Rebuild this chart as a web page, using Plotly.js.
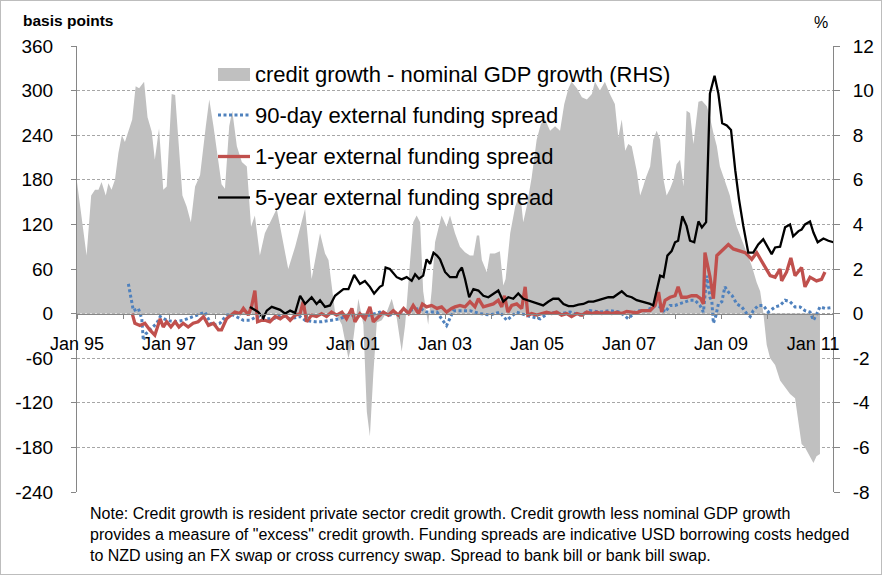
<!DOCTYPE html>
<html><head><meta charset="utf-8">
<script src="https://cdn.plot.ly/plotly-3.0.1.min.js"></script>
<style>
body{margin:0;background:#fff}
#wrap{position:relative;width:882px;height:575px}
#chart{width:882px;height:575px}
#frame{position:absolute;left:0;top:0;width:882px;height:575px;box-sizing:border-box;border:1px solid #bdbdbd;pointer-events:none}
</style>
</head><body><div id="wrap"><div id="chart"></div><div id="frame"></div></div>
<script>
// x positions are months since Jan 1995
const tickMonths = [0,24,48,72,96,120,144,168,192];
const tickLabels = ['Jan 95','Jan 97','Jan 99','Jan 01','Jan 03','Jan 05','Jan 07','Jan 09','Jan 11'];
const leftTicks = [-240,-180,-120,-60,0,60,120,180,240,300,360];
const leftTickText = ['-240','-180','-120','-60','0','60','120','180','240','300','360'];
const rightTicks = [-8,-6,-4,-2,0,2,4,6,8,10,12];
const rightTickText = ['-8','-6','-4','-2','0','2','4','6','8','10','12'];

// credit growth - nominal GDP growth (%, RHS)
const gapMonth = [0,2.5,3.7,4.7,5.6,6.4,7.5,8.2,9.0,9.9,10.8,11.7,12.5,13.4,14.4,15.3,16.2,17.5,18.4,19.5,
 20.3,21.4,22.5,23.4,24.7,25.6,26.6,27.5,28.6,29.7,30.8,32.1,33.6,34.5,35.6,36.7,37.7,38.6,39.7,40.5,
 41.7,43.0,44.3,45.4,46.4,47.7,49.0,52.1,55.1,56.9,59.5,61.2,63.4,64.7,65.6,67.3,69.1,70.8,72.1,73.4,
 74.7,75.6,76.4,77.3,78.2,79.5,80.8,82.1,83.4,84.7,85.6,86.9,87.7,88.6,89.5,90.3,91.6,92.5,93.4,95.1,
 96.4,97.3,98.6,99.9,101.2,102.5,103.4,104.3,104.9,105.6,106.9,107.7,109.0,110.3,111.2,111.8,113.0,114.3,115.6,116.4,
 117.3,118.6,119.9,121.0,122.1,123.4,124.7,126.0,127.1,128.2,129.0,130.4,131.7,133.0,134.3,135.1,136.4,137.7,139.0,140.3,
 141.2,142.1,143.0,143.8,144.7,146.0,146.9,147.7,148.4,149.5,150.3,151.2,152.1,153.0,153.8,154.7,155.6,156.4,157.3,158.2,
 159.0,159.9,160.8,162.1,163.0,164.3,165.1,166.0,166.9,167.7,168.6,169.5,170.3,171.2,172.1,173.4,174.7,176.0,177.3,178.2,
 179.0,179.9,180.8,182.1,183.4,184.7,186.0,187.3,188.2,189.0,189.9,191.2,192.1,192.9,193.8];
const gapValue = [5.9,2.6,5.3,5.55,5.55,5.9,5.3,5.85,5.55,6.0,7.2,8.0,7.7,8.2,8.7,10.2,10.1,10.4,8.8,8.15,
 6.9,8.3,5.55,5.7,9.85,9.8,7.5,5.3,4.8,4.1,5.7,6.2,8.4,9.6,8.4,6.9,5.8,5.6,8.4,9.1,
 7.5,6.8,6.6,3.9,4.4,2.6,3.6,4.7,2.0,3.0,4.7,1.55,3.6,2.7,2.4,0.07,-0.5,-2.0,-1.1,0.67,
 -0.5,-4.4,-5.5,-2.7,-0.4,-0.3,0.07,0.67,-0.2,-1.7,-0.5,2.4,4.1,4.4,4.1,1.0,-0.5,1.0,3.2,4.4,
 3.9,4.4,3.6,3.0,2.75,2.6,2.6,3.5,3.5,2.4,1.85,2.7,2.7,2.8,1.26,1.55,3.6,4.8,5.4,4.1,
 4.8,6.1,7.8,8.5,8.7,8.2,8.4,8.2,9.4,10.1,10.4,10.1,9.7,9.6,9.85,10.4,10.0,10.4,9.85,9.4,
 7.9,8.7,7.3,7.6,7.5,6.4,5.3,5.7,6.1,6.6,7.8,8.2,7.8,6.0,5.3,5.6,6.0,6.7,6.9,5.7,
 9.1,9.0,7.6,9.5,9.55,9.3,8.8,8.1,7.5,6.6,6.1,5.7,5.3,4.5,3.9,3.3,2.7,2.15,1.4,1.0,
 0.07,-1.4,-2.0,-2.3,-3.0,-3.3,-3.6,-3.8,-4.8,-5.85,-6.0,-6.4,-6.7,-6.4,-6.3];

// 90-day external funding spread (bp)
const d90Month = [13.4,13.8,14.3,14.7,16.0,16.9,17.3,18.0,18.6,19.5,20.8,21.7,23.4,25.6,27.7,30.3,33.4,35.1,37.3,39.0,
 40.8,43.4,45.1,46.9,48.6,51.2,53.4,55.6,58.2,59.5,62.1,63.8,66.0,68.6,70.3,72.1,74.3,76.4,79.0,81.6,
 84.3,86.9,89.5,91.2,93.9,95.1,96.4,98.2,99.1,102.5,105.1,107.7,110.3,112.1,114.7,118.2,120.8,123.4,126.0,128.6,
 131.2,133.8,136.4,139.0,141.7,143.8,146.0,148.6,150.8,152.1,153.4,154.7,156.0,157.3,158.6,159.9,161.2,162.5,163.4,164.3,
 165.1,165.6,166.0,166.6,167.3,168.2,169.0,169.9,170.9,172.1,173.4,174.7,175.6,176.4,177.7,179.0,180.3,182.1,183.4,184.7,
 186.0,187.3,188.6,189.9,191.2,192.1,193.0,193.8,195.1,196.9];
const d90Value = [40,29,18,4,7,-7,-36,-27,-24,-20,-13,-4,-9,-11,-9,-4,2,-16,-13,-2,
 -2,-9,-9,-4,-7,-7,-2,-7,-4,-9,-11,-11,-9,-7,-3,-2,-4,-2,2,-2,
 2,4,7,2,2,-7,-16,4,4,4,0,-2,2,-9,2,-4,-7,2,0,2,
 -2,4,2,4,2,-7,4,4,11,9,2,11,11,13,16,18,18,11,2,51,
 22,16,-13,-4,13,16,36,29,24,13,9,0,-4,4,11,11,2,9,11,18,
 16,9,9,4,2,-9,0,9,7,8];

// 1-year external funding spread (bp)
const y1Month = [14.4,15.1,16.4,17.7,19.0,20.3,21.7,22.5,23.4,24.5,25.6,26.6,27.7,29.0,30.3,31.6,33.0,34.3,35.6,36.9,
 37.7,39.0,40.2,41.2,42.5,43.4,44.7,45.6,46.4,47.1,48.2,49.0,50.3,51.7,53.0,54.3,55.6,56.9,58.2,59.0,
 59.9,61.2,62.5,63.8,65.1,66.4,67.7,69.1,70.3,71.7,72.5,73.8,75.1,76.4,77.3,78.6,79.9,81.2,82.5,83.8,
 85.2,86.5,87.7,89.1,90.1,91.2,92.5,93.9,95.1,96.4,97.7,98.6,99.9,101.2,102.5,103.8,104.7,106.0,107.3,108.6,
 109.9,110.8,111.5,112.4,113.4,114.7,116.0,116.9,117.6,118.6,119.9,121.2,122.5,123.8,125.1,126.4,127.7,129.0,130.4,131.7,
 133.0,134.3,135.6,136.9,138.2,139.5,140.8,142.1,143.4,144.7,146.0,147.3,148.4,149.5,150.8,151.7,152.5,153.4,154.7,156.0,
 156.8,157.7,159.0,160.3,161.6,162.7,163.4,163.8,165.1,166.0,166.9,168.4,169.9,171.2,174.3,175.1,176.0,177.3,179.0,180.8,
 182.1,183.4,183.8,185.1,186.2,187.3,189.0,189.9,191.2,192.9,194.2,195.1];
const y1Value = [0,-13,-16,-13,-22,-29,-7,-18,-11,-18,-11,-18,-13,-18,-13,-11,-4,-16,-13,-22,
 -22,-7,-2,2,0,7,-2,11,31,-11,-9,-9,-11,-4,-7,-2,-9,-2,0,16,
 -11,-2,-4,0,-4,2,-2,2,-7,7,-11,0,-7,9,-11,-4,2,-2,4,-2,
 7,0,11,0,13,9,11,7,9,2,7,9,11,9,16,9,20,9,11,13,
 18,9,24,2,11,13,7,36,-2,0,-2,0,2,0,2,-2,0,-4,0,-2,
 2,0,2,0,2,0,2,0,3,2,1,4,4,4,11,29,2,18,22,24,
 36,22,22,24,24,20,13,82,50,20,78,85,93,87,82,78,73,82,67,51,
 49,60,44,56,75,51,62,36,49,44,46,56];

// 5-year external funding spread (bp)
const y5Month = [45.1,47.3,48.6,49.5,50.8,53.0,54.3,55.6,56.9,58.2,59.5,61.2,62.5,63.4,64.7,66.0,67.3,69.5,70.8,72.3,
 73.8,75.1,76.4,77.5,79.0,79.7,80.5,81.6,83.4,84.7,86.0,87.3,88.2,89.2,90.3,91.2,92.1,93.0,93.9,94.7,
 96.0,97.3,99.0,99.5,100.4,101.2,102.3,103.4,104.7,106.0,107.3,108.6,109.9,111.2,112.5,113.8,115.1,116.4,117.7,119.0,
 120.3,121.6,122.9,124.2,125.6,126.9,128.2,129.5,130.8,132.1,133.4,134.7,136.0,137.3,138.6,139.9,141.2,142.1,143.4,144.7,
 146.0,147.3,148.4,149.5,150.3,151.2,152.1,153.0,154.0,155.1,156.0,156.8,157.9,159.0,159.9,161.0,162.1,163.0,164.1,165.1,
 166.3,167.3,168.3,169.5,170.6,171.7,172.7,173.8,175.1,176.4,177.7,179.0,179.9,181.2,182.1,183.4,184.7,186.0,186.8,188.2,
 189.0,189.9,191.2,192.1,193.2,194.7,196.0,197.3];
const y5Value = [9,2,-6,4,9,5,0,4,1,24,13,22,13,18,9,11,24,33,33,52,
 40,44,36,27,36,38,62,60,49,46,49,44,53,47,51,73,67,82,78,73,
 56,49,49,56,62,47,22,33,31,24,22,27,31,16,22,20,27,20,18,16,
 13,11,16,20,20,13,10,10,12,13,16,16,18,20,22,22,27,30,24,22,
 18,16,15,13,11,33,51,49,78,84,96,98,131,118,98,96,124,116,123,296,
 320,296,256,253,247,193,153,118,82,82,93,100,91,80,89,90,116,120,104,111,
 113,120,124,109,96,101,98,96];

const FONT = 'Liberation Sans, Arial, sans-serif';
const AX = '#868686';
const BLUE = '#4F81BD', RED = '#C0504D', GREY = '#C0C0C0';
const DOTS = '3px,2.5px';

// primary y = RHS (%) so the area sits underneath; y2 = LHS basis points overlay
const traces = [
  {x: gapMonth, y: gapValue, yaxis: 'y', type: 'scatter', mode: 'lines', fill: 'tozeroy',
   fillcolor: GREY, line: {width: 0, color: GREY}, name: 'credit growth - nominal GDP growth (RHS)'},
  {x: d90Month, y: d90Value, yaxis: 'y2', type: 'scatter', mode: 'lines',
   line: {color: BLUE, width: 3, dash: DOTS}, name: '90-day external funding spread'},
  {x: y1Month, y: y1Value, yaxis: 'y2', type: 'scatter', mode: 'lines',
   line: {color: RED, width: 3.3}, name: '1-year external funding spread'},
  {x: y5Month, y: y5Value, yaxis: 'y2', type: 'scatter', mode: 'lines',
   line: {color: '#000000', width: 2.3}, name: '5-year external funding spread'}
];

// plot area: x 77..833, y 46..492
const px = v => (v - 77) / 756;
const py = v => (492 - v) / 446;

const legendRows = [
  {text: 'credit growth - nominal GDP growth (RHS)', y: 74.5},
  {text: '90-day external funding spread', y: 115},
  {text: '1-year external funding spread', y: 156.5},
  {text: '5-year external funding spread', y: 197.5}
];

const annotations = legendRows.map(r => ({
  xref: 'paper', yref: 'paper', x: px(253), y: py(r.y), xanchor: 'left', yanchor: 'middle',
  text: r.text, showarrow: false, font: {family: FONT, size: 22, color: '#000'}
}));
annotations.push({xref: 'paper', yref: 'paper', x: px(21), y: py(20), xanchor: 'left', yanchor: 'middle',
  text: '<b>basis points</b>', showarrow: false, font: {family: FONT, size: 15.5, color: '#000'}});
annotations.push({xref: 'paper', yref: 'paper', x: px(821), y: py(22), xanchor: 'center', yanchor: 'middle',
  text: '%', showarrow: false, font: {family: FONT, size: 16, color: '#000'}});
annotations.push({xref: 'paper', yref: 'paper', x: px(88), y: py(503), xanchor: 'left', yanchor: 'top', align: 'left',
  text: 'Note: Credit growth is resident private sector credit growth. Credit growth less nominal GDP growth<br>' +
        'provides a measure of "excess" credit growth. Funding spreads are indicative USD borrowing costs hedged<br>' +
        'to NZD using an FX swap or cross currency swap. Spread to bank bill or bank bill swap.',
  showarrow: false, font: {family: FONT, size: 16, color: '#000'}});

const shapes = [
  {type: 'rect', xref: 'paper', yref: 'paper', x0: px(218), x1: px(250), y0: py(81), y1: py(68),
   fillcolor: GREY, line: {width: 0}},
  {type: 'line', xref: 'paper', yref: 'paper', x0: px(218), x1: px(250), y0: py(115), y1: py(115),
   line: {color: BLUE, width: 3, dash: DOTS}},
  {type: 'line', xref: 'paper', yref: 'paper', x0: px(218), x1: px(250), y0: py(156.5), y1: py(156.5),
   line: {color: RED, width: 3.3}},
  {type: 'line', xref: 'paper', yref: 'paper', x0: px(218), x1: px(250), y0: py(197.5), y1: py(197.5),
   line: {color: '#000000', width: 2.3}}
];

const layout = {
  width: 882, height: 575,
  margin: {l: 77, r: 49, t: 46, b: 83},
  paper_bgcolor: '#fff', plot_bgcolor: '#fff',
  showlegend: false,
  font: {family: FONT, color: '#000'},
  xaxis: {
    type: 'linear', range: [0, 197.2], anchor: 'free', position: 0.4,
    tickmode: 'array', tickvals: tickMonths, ticktext: tickLabels,
    ticks: 'outside', ticklen: 4, tickcolor: AX, tickwidth: 1,
    minor: {tickmode: 'linear', tick0: 0, dtick: 12, ticks: 'outside', ticklen: 4, tickcolor: AX, showgrid: false},
    showline: true, linecolor: AX, linewidth: 1, showgrid: false, zeroline: false,
    tickfont: {family: FONT, size: 18, color: '#000'}, ticklabelstandoff: 10, layer: 'above traces'
  },
  yaxis: {
    range: [-8, 12], side: 'right', tickmode: 'array', tickvals: rightTicks, ticktext: rightTickText,
    ticks: 'outside', ticklen: 6, tickcolor: AX, showline: true, linecolor: AX, linewidth: 1,
    showgrid: false, zeroline: false,
    tickfont: {family: FONT, size: 19, color: '#000'}, ticklabelstandoff: 9
  },
  yaxis2: {
    range: [-240, 360], overlaying: 'y', side: 'left', tickmode: 'array', tickvals: leftTicks, ticktext: leftTickText,
    ticks: 'outside', ticklen: 5, tickcolor: AX, showline: true, linecolor: AX, linewidth: 1,
    showgrid: true, gridcolor: '#A6A6A6', griddash: '3px,2px', gridwidth: 1, zeroline: false,
    tickfont: {family: FONT, size: 19, color: '#000'}, ticklabelstandoff: 14
  },
  annotations: annotations,
  shapes: shapes
};

Plotly.newPlot('chart', traces, layout, {staticPlot: true, displayModeBar: false});
</script>
</body></html>
